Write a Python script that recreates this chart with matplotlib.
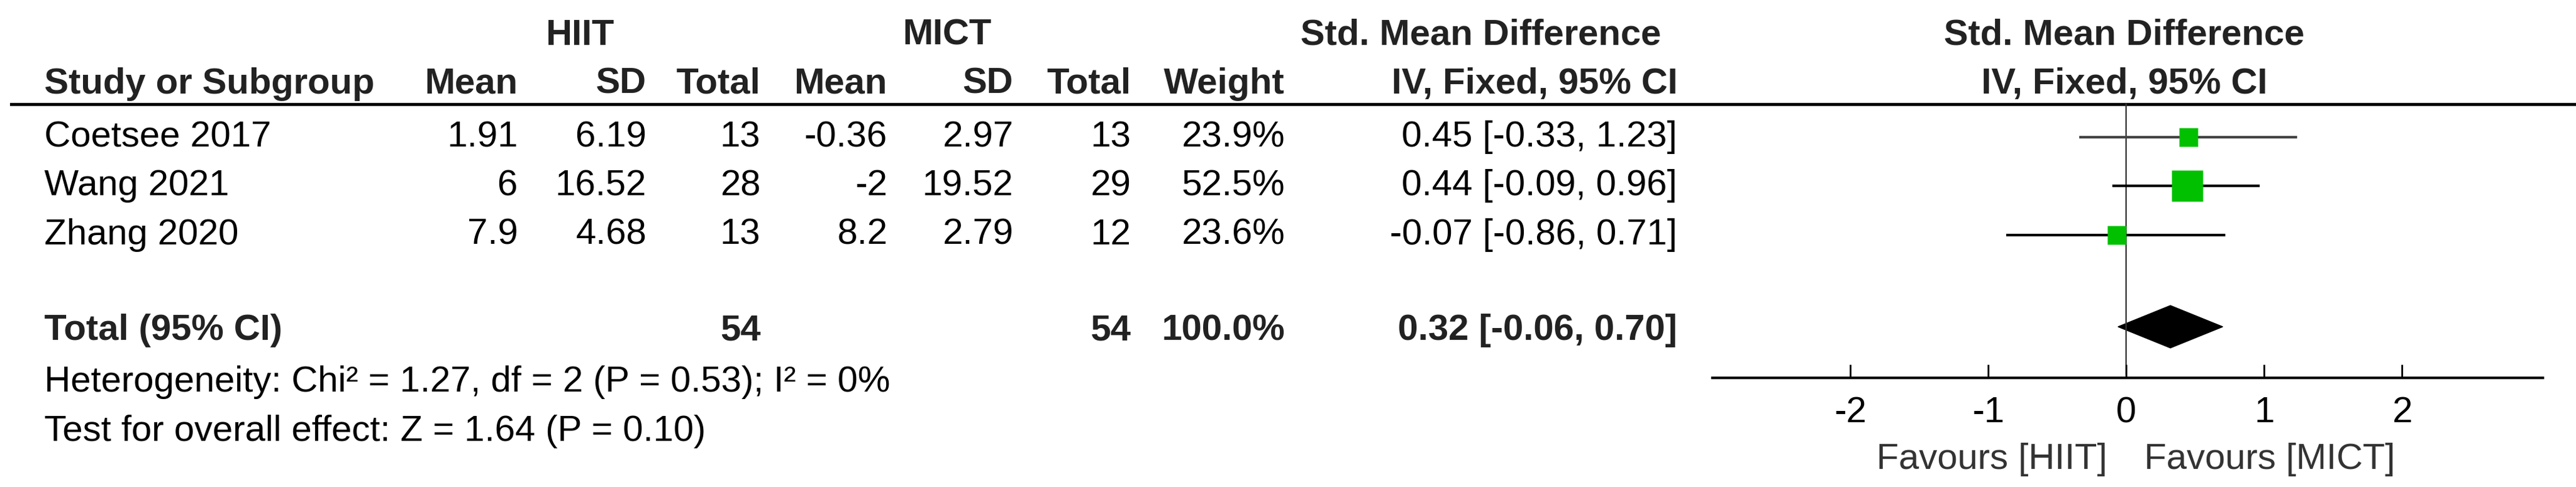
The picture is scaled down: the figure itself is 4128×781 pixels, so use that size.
import matplotlib.pyplot as plt
from matplotlib.patches import Polygon

plt.rcParams['font.family'] = ['Liberation Sans', 'DejaVu Sans']

studies = ["Coetsee 2017", "Wang 2021", "Zhang 2020"]
hiit_mean = ["1.91", "6", "7.9"]
hiit_sd = ["6.19", "16.52", "4.68"]
hiit_n = [13, 28, 13]
mict_mean = ["-0.36", "-2", "8.2"]
mict_sd = ["2.97", "19.52", "2.79"]
mict_n = [13, 29, 12]
weights = [23.9, 52.5, 23.6]
smd = [0.45, 0.44, -0.07]
ci_low = [-0.33, -0.09, -0.86]
ci_high = [1.23, 0.96, 0.71]
total_smd, total_low, total_high = 0.32, -0.06, 0.70
ticks = [-2, -1, 0, 1, 2]

W, H = 4128, 781
fig = plt.figure(figsize=(W / 100, H / 100), dpi=100)
ax = fig.add_axes([0, 0, 1, 1])
ax.set_xlim(0, W)
ax.set_ylim(H, 0)
ax.axis("off")

fs = 42
dark = "#222222"
kw = dict(fontsize=fs, va="center", color="black")
bkw = dict(fontsize=fs, va="center", color=dark, fontweight="bold")

# group headers
ax.text(929, 57, "HIIT", ha="center", **bkw)
ax.text(1517, 57, "MICT", ha="center", **bkw)
ax.text(2373, 57, "Std. Mean Difference", ha="center", **bkw)
ax.text(3404, 57, "Std. Mean Difference", ha="center", **bkw)

# column headers
ax.text(71, 135, "Study or Subgroup", ha="left", **bkw)
for x, lab in [(830, "Mean"), (1036, "SD"), (1219, "Total"), (1422, "Mean"),
               (1624, "SD"), (1812, "Total"), (2059, "Weight"), (2688, "IV, Fixed, 95% CI")]:
    ax.text(x, 135, lab, ha="right", **bkw)
ax.text(3404, 135, "IV, Fixed, 95% CI", ha="center", **bkw)
ax.plot([18, W], [167, 167], color="black", lw=3.5)

row_y = [220, 298, 377]
for i, y in enumerate(row_y):
    ax.text(71, y, studies[i], ha="left", **kw)
    ax.text(830, y, hiit_mean[i], ha="right", **kw)
    ax.text(1036, y, hiit_sd[i], ha="right", **kw)
    ax.text(1219, y, str(hiit_n[i]), ha="right", **kw)
    ax.text(1422, y, mict_mean[i], ha="right", **kw)
    ax.text(1624, y, mict_sd[i], ha="right", **kw)
    ax.text(1812, y, str(mict_n[i]), ha="right", **kw)
    ax.text(2059, y, f"{weights[i]:.1f}%", ha="right", **kw)
    ax.text(2688, y, f"{smd[i]:.2f} [{ci_low[i]:.2f}, {ci_high[i]:.2f}]", ha="right", **kw)

ty = 530
ax.text(71, ty, "Total (95% CI)", ha="left", **bkw)
ax.text(1219, ty, str(sum(hiit_n)), ha="right", **bkw)
ax.text(1812, ty, str(sum(mict_n)), ha="right", **bkw)
ax.text(2059, ty, "100.0%", ha="right", **bkw)
ax.text(2688, ty, f"{total_smd:.2f} [{total_low:.2f}, {total_high:.2f}]", ha="right", **bkw)
ax.text(71, 613, "Heterogeneity: Chi² = 1.27, df = 2 (P = 0.53); I² = 0%", ha="left", **kw)
ax.text(71, 692, "Test for overall effect: Z = 1.64 (P = 0.10)", ha="left", **kw)

# forest panel
fx = fig.add_axes([2742 / W, 0, (4077 - 2742) / W, 1])
fx.set_xlim(-3.01, 3.03)
fx.set_ylim(H, 0)
fx.axis("off")
fx.plot([0, 0], [167, 600], color="#333333", lw=1.6)
for i, y in enumerate(row_y):
    col = "#444444" if i == 0 else "black"
    fx.plot([ci_low[i], ci_high[i]], [y, y], color=col, lw=3)
    size_px = 13 + 0.69 * weights[i]
    fx.plot(smd[i], y, marker="s", ms=size_px * 0.72, color="#00c000", mec="none")
fx.add_patch(Polygon([(total_low, 524), (total_smd, 490), (total_high, 524), (total_smd, 558)],
                     closed=True, color="black"))
fx.plot([-3.01, 3.03], [606, 606], color="black", lw=3)
for t in ticks:
    fx.plot([t, t], [586, 606], color="black", lw=2)
    fx.text(t, 662, f"{t}", ha="center", va="center", fontsize=fs, color="black")
fx.text(-0.14, 737, "Favours [HIIT]", ha="right", va="center", fontsize=fs, color="#333333")
fx.text(0.13, 737, "Favours [MICT]", ha="left", va="center", fontsize=fs, color="#333333")

fig.savefig("out.png", dpi=100)
